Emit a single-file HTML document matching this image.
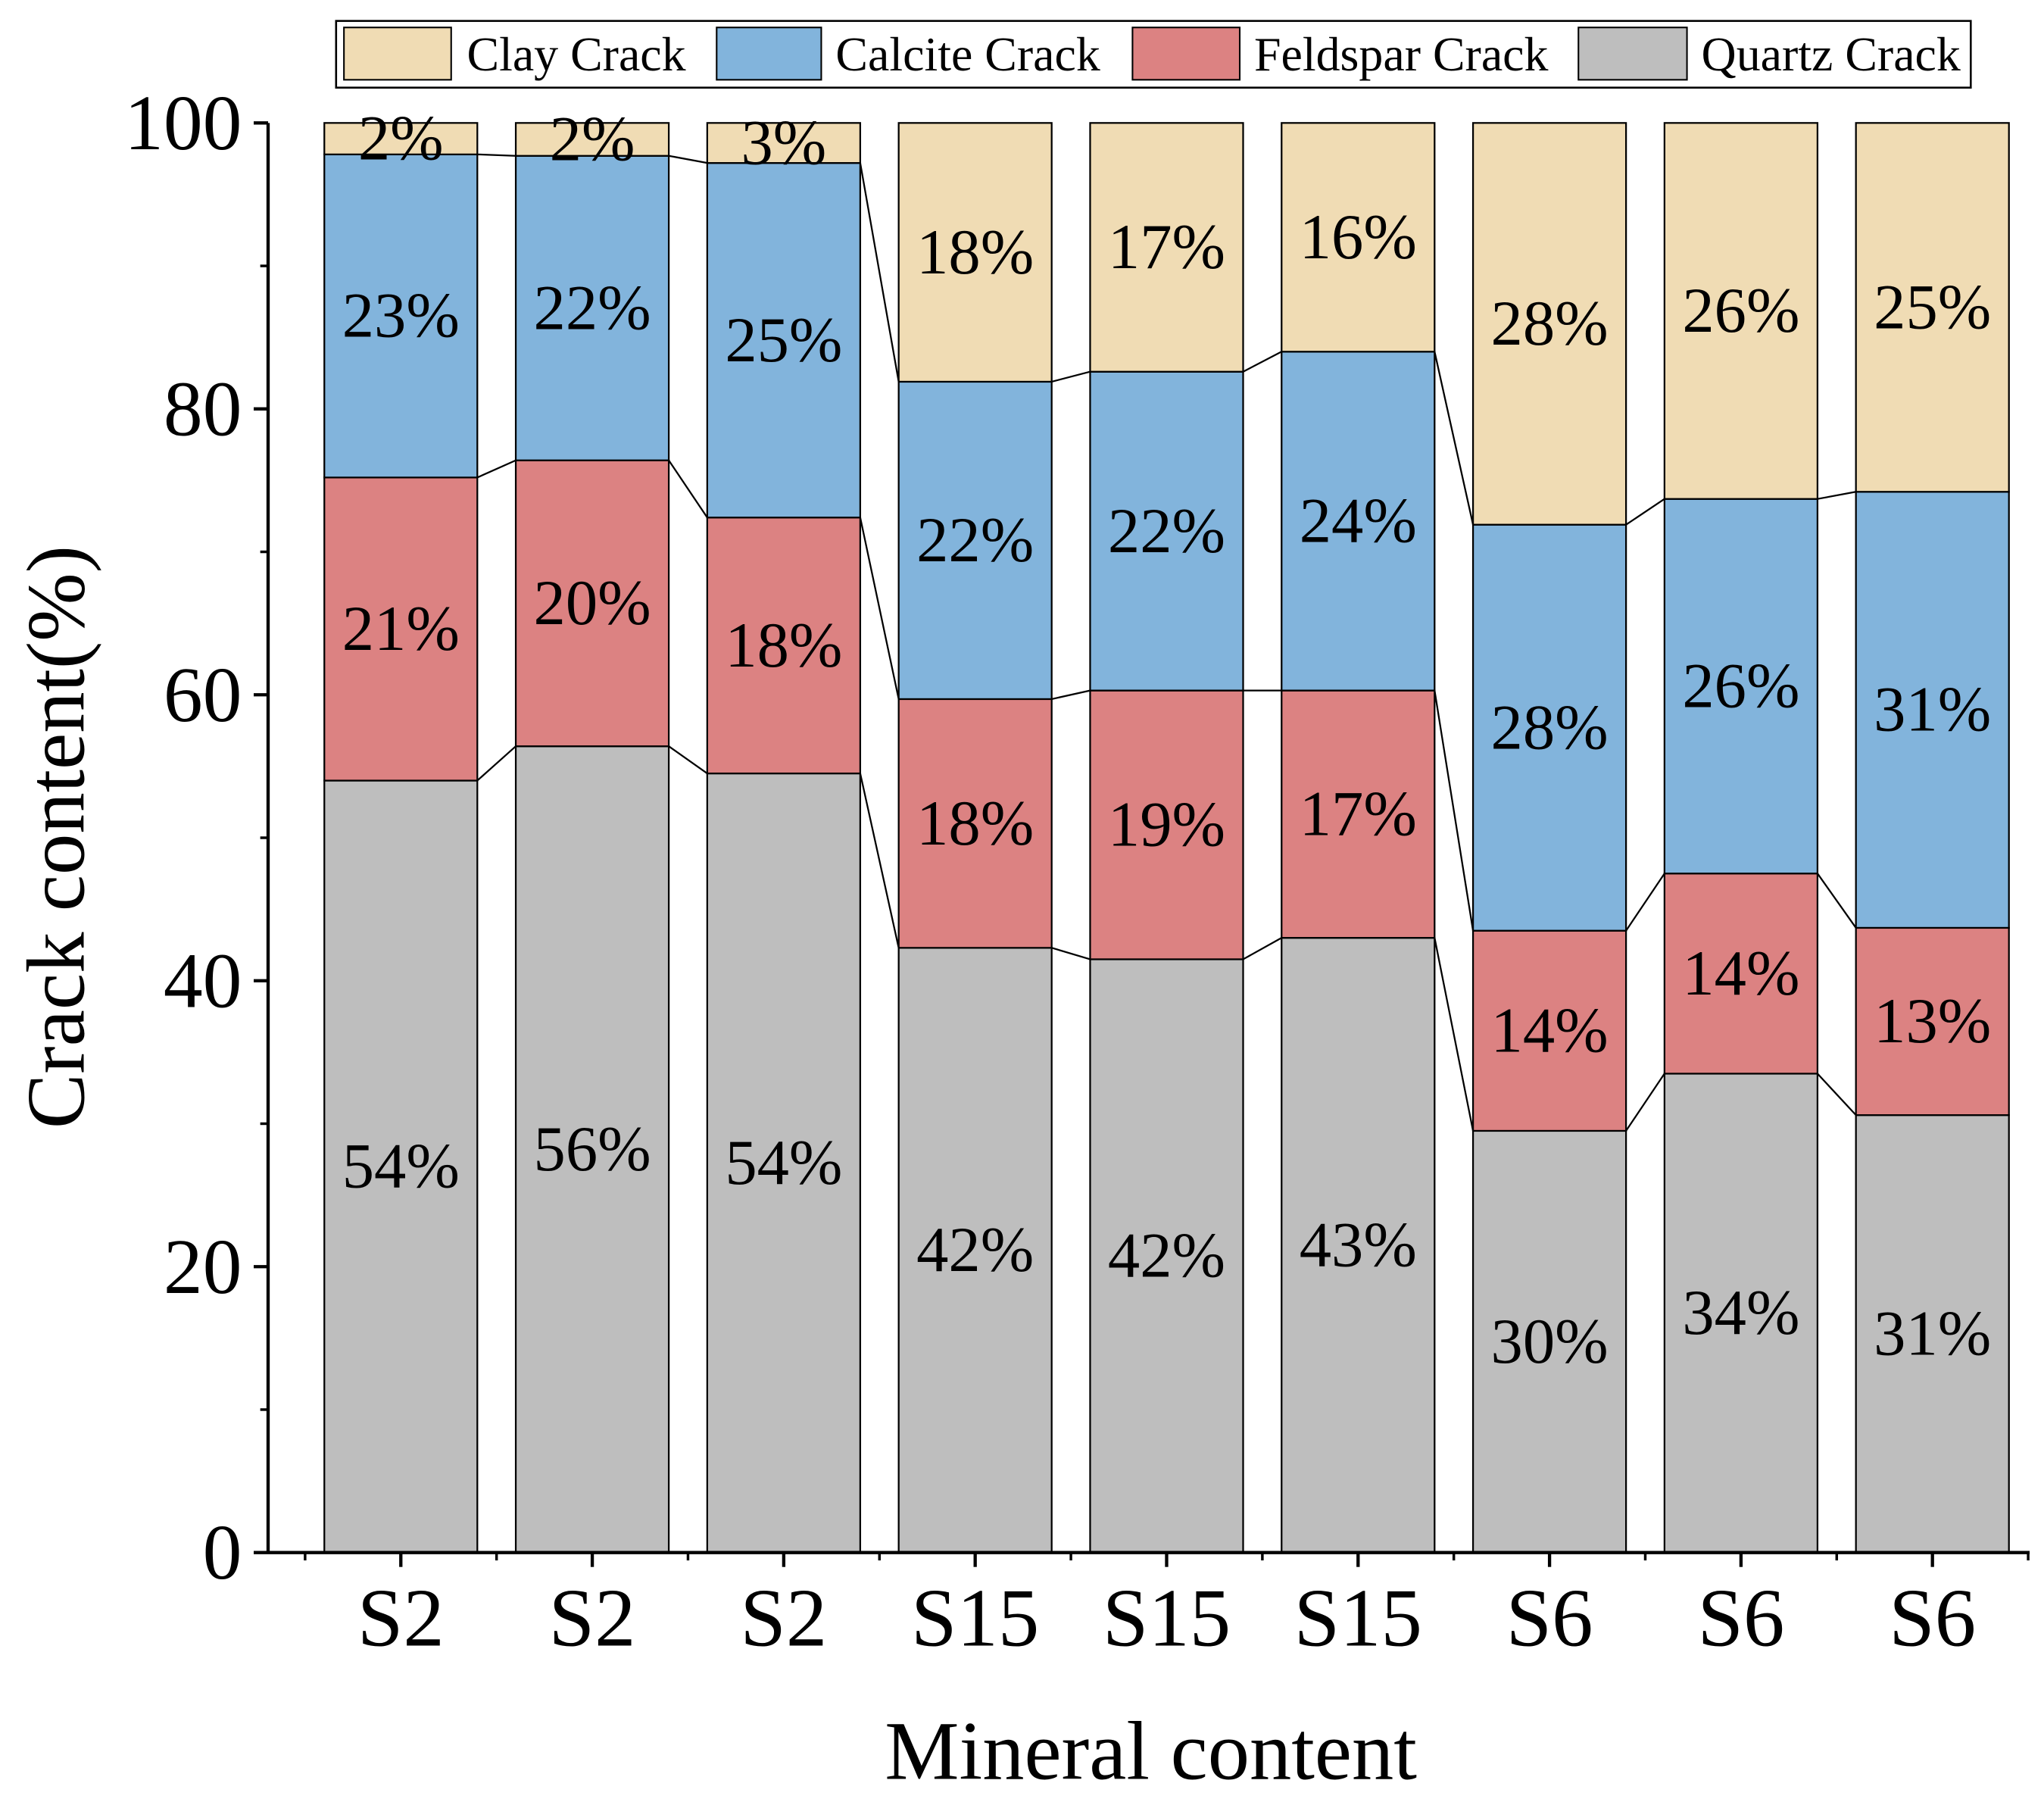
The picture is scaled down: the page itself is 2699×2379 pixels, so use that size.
<!DOCTYPE html>
<html><head><meta charset="utf-8"><style>html,body{margin:0;padding:0;background:#fff}svg{display:block}</style></head>
<body>
<svg id="chart" width="2699" height="2379" viewBox="0 0 1563 1377.7" xmlns="http://www.w3.org/2000/svg" font-family="Liberation Serif, serif">
<g id="legend">
<rect x="257" y="16" width="1250" height="51" fill="#fff" stroke="#000" stroke-width="1.5"/>
<g><rect x="263" y="21" width="82" height="40" fill="#F0DCB4" stroke="#000" stroke-width="1.2"/><text x="357" y="54" font-size="37">Clay Crack</text></g>
<g><rect x="548" y="21" width="80" height="40" fill="#82B4DC" stroke="#000" stroke-width="1.2"/><text x="639" y="54" font-size="37">Calcite Crack</text></g>
<g><rect x="866" y="21" width="82" height="40" fill="#DC8282" stroke="#000" stroke-width="1.2"/><text x="959" y="54" font-size="37">Feldspar Crack</text></g>
<g><rect x="1207" y="21" width="83" height="40" fill="#BEBEBE" stroke="#000" stroke-width="1.2"/><text x="1301" y="54" font-size="37">Quartz Crack</text></g>
</g>
<g id="bars"></g>
<g id="axes"></g>
<text x="880" y="1360" font-size="64" text-anchor="middle">Mineral content</text>
<text transform="translate(64,640) rotate(-90)" font-size="63" text-anchor="middle">Crack content(%)</text>
</svg>
<script>
const categories = ["S2","S2","S2","S15","S15","S15","S6","S6","S6"];
const quartz   = [54.0,56.4,54.5,42.3,41.5,43.0,29.5,33.5,30.6];
const feldspar = [21.2,20.0,17.9,17.4,18.8,17.3,14.0,14.0,13.1];
const calcite  = [22.6,21.3,24.8,22.2,22.3,23.7,28.4,26.2,30.5];
const clay     = [2.2,2.3,2.8,18.1,17.4,16.0,28.1,26.3,25.8];
const quartzLabels   = ["54%","56%","54%","42%","42%","43%","30%","34%","31%"];
const feldsparLabels = ["21%","20%","18%","18%","19%","17%","14%","14%","13%"];
const calciteLabels  = ["23%","22%","25%","22%","22%","24%","28%","26%","31%"];
const clayLabels     = ["2%","2%","3%","18%","17%","16%","28%","26%","25%"];
const yTicks = [0,20,40,60,80,100];

const NS="http://www.w3.org/2000/svg";
const x0=205,x1=1552,yTop=94,yBot=1187;
const y=v=>yBot-(yBot-yTop)*v/100;
const xc=i=>306.5+i*146.4;
const bw=117;
function mk(tag,attrs,parent){const e=document.createElementNS(NS,tag);for(const k in attrs)e.setAttribute(k,attrs[k]);parent.appendChild(e);return e;}
const bars=document.getElementById('bars'),axes=document.getElementById('axes');
const series=[[quartz,"#BEBEBE",quartzLabels,"quartz"],[feldspar,"#DC8282",feldsparLabels,"feldspar"],[calcite,"#82B4DC",calciteLabels,"calcite"],[clay,"#F0DCB4",clayLabels,"clay"]];
const tops=categories.map(()=>[]);
categories.forEach((c,i)=>{
  let base=0;
  series.forEach(([vals,col,labs,nm])=>{
    const v=vals[i];let t=base+v;if(nm==="clay")t=Math.min(t,100);
    const r=mk('rect',{x:xc(i)-bw/2,y:y(t),width:bw,height:y(base)-y(t),fill:col,stroke:'#000','stroke-width':1.3},bars);
    
    
    const tx=mk('text',{x:xc(i),y:(y(t)+y(base))/2+16,'font-size':49,'text-anchor':'middle'},bars);
    tx.textContent=labs[i];
    
    
    base=t;tops[i].push(t);
  });
});
for(let i=0;i<categories.length-1;i++){
  for(let k=0;k<3;k++){
    const l=mk('line',{x1:xc(i)+bw/2,y1:y(tops[i][k]),x2:xc(i+1)-bw/2,y2:y(tops[i+1][k]),stroke:'#000','stroke-width':1.3},bars);
    
    
  }
}
const ya=mk('line',{x1:x0,y1:yTop,x2:x0,y2:yBot,stroke:'#000','stroke-width':2.5},axes);


const xa=mk('line',{x1:x0,y1:yBot,x2:x1,y2:yBot,stroke:'#000','stroke-width':2.5},axes);


yTicks.forEach(v=>{
  mk('line',{x1:x0-11,y1:y(v),x2:x0,y2:y(v),stroke:'#000','stroke-width':2.5},axes);
  const t=mk('text',{x:x0-20,y:y(v)+20,'font-size':60,'text-anchor':'end'},axes);
  t.textContent=v;
  
  
  if(v<100) mk('line',{x1:x0-6,y1:y(v+10),x2:x0,y2:y(v+10),stroke:'#000','stroke-width':2},axes);
});
categories.forEach((c,i)=>{
  mk('line',{x1:xc(i),y1:yBot,x2:xc(i),y2:yBot+11,stroke:'#000','stroke-width':2.5},axes);
  mk('line',{x1:xc(i)-73.2,y1:yBot,x2:xc(i)-73.2,y2:yBot+6,stroke:'#000','stroke-width':2},axes);
  const t=mk('text',{x:xc(i),y:1258,'font-size':63,'text-anchor':'middle'},axes);
  t.textContent=c;
  
  
});
mk('line',{x1:xc(8)+73.2,y1:yBot,x2:xc(8)+73.2,y2:yBot+6,stroke:'#000','stroke-width':2},axes);
</script>
</body></html>
